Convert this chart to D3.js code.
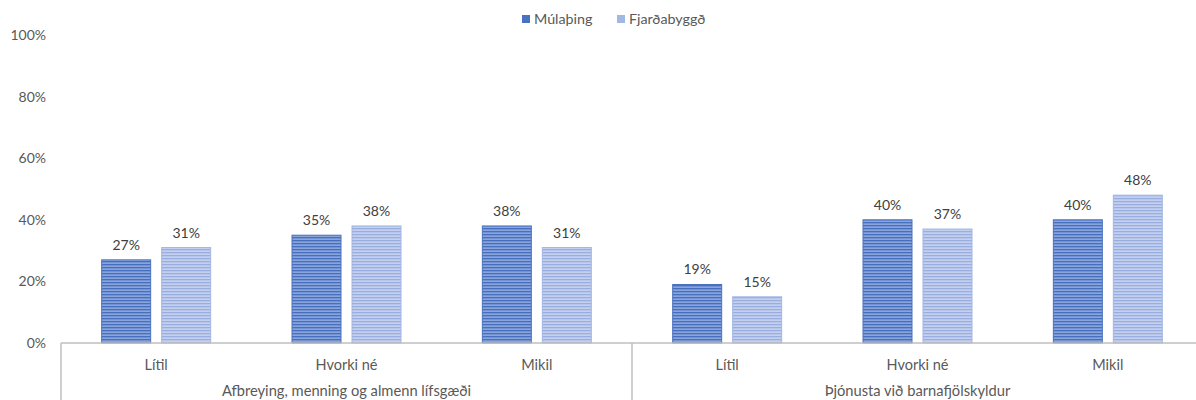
<!DOCTYPE html>
<html>
<head>
<meta charset="utf-8">
<script src="https://cdn.jsdelivr.net/npm/d3@7"></script>
<style>
  html, body { margin: 0; padding: 0; background: #fff; }
  svg text { font-family: Lato, "Open Sans", sans-serif; }
</style>
</head>
<body>
<svg id="chart" width="1196" height="400"></svg>
<script>
const groups = ["Afbreying, menning og almenn lífsgæði", "Þjónusta við barnafjölskyldur"];
const categories = ["Lítil", "Hvorki né", "Mikil"];
const seriesNames = ["Múlaþing", "Fjarðabyggð"];
const mulathing = [27, 35, 38, 19, 40, 40];
const fjardabyggd = [31, 38, 31, 15, 37, 48];
const yTicks = [0, 20, 40, 60, 80, 100];

(function () {
const svg = d3.select("#chart");
const mLeft = 61, mRight = 1203, mTop = 35, mBottom = 343;

// patterns
const defs = svg.append("defs");
function stripe(id, base, line, line2) {
  const p = defs.append("pattern").attr("id", id).attr("patternUnits", "userSpaceOnUse")
    .attr("width", 8).attr("height", 3);
  p.append("rect").attr("width", 8).attr("height", 3).attr("fill", base);
  p.append("rect").attr("y", 0).attr("width", 8).attr("height", 1).attr("fill", line);
  p.append("rect").attr("y", 2).attr("width", 8).attr("height", 1).attr("fill", line2);
}
stripe("pDark", "#7393d2", "#4670bf", "#8aa5db");
stripe("pLight", "#b7c6ea", "#98aee0", "#c4d0ee");
const fills = ["url(#pDark)", "url(#pLight)"];
const edge = ["#4a72c0", "#a3b7e3"];
const legendFill = ["#4a72c0", "#a3b7e3"];

const items = [];
groups.forEach((g, gi) => categories.forEach((c, ci) => items.push({ g, gi, c, i: gi * categories.length + ci })));

const x = d3.scaleBand().domain(items.map(d => d.i)).range([mLeft, mRight]).padding(0);
const xs = d3.scaleBand().domain(seriesNames).range([0, x.step()]).paddingInner(11 / 60).paddingOuter(0.678);
const y = d3.scaleLinear().domain([0, 100]).range([mBottom, mTop]);

// y tick labels
const yAxis = d3.axisLeft(y).tickValues(yTicks).tickFormat(d => d + "%").tickSize(0).tickPadding(15);
const ya = svg.append("g").attr("transform", `translate(${mLeft},0)`).call(yAxis);
ya.select(".domain").remove();
ya.selectAll("text").attr("fill", "#595959").style("font-size", "14px").style("font-family", "Lato, sans-serif");

// bars
const values = [mulathing, fjardabyggd];
seriesNames.forEach((s, si) => {
  svg.append("g").selectAll("rect").data(items).join("rect")
    .attr("x", d => x(d.i) + xs(s))
    .attr("width", xs.bandwidth())
    .attr("y", d => y(values[si][d.i]))
    .attr("height", d => y(0) - y(values[si][d.i]))
    .attr("fill", fills[si])
    .attr("stroke", edge[si]).attr("stroke-width", 1);
  svg.append("g").selectAll("text").data(items).join("text")
    .attr("x", d => x(d.i) + xs(s) + xs.bandwidth() / 2)
    .attr("y", d => y(values[si][d.i]) - 10)
    .attr("text-anchor", "middle")
    .attr("fill", "#404040").style("font-size", "14px")
    .text(d => values[si][d.i] + "%");
});

// x axis line
svg.append("line").attr("x1", mLeft).attr("x2", mRight).attr("y1", mBottom).attr("y2", mBottom)
  .attr("stroke", "#bfbfbf").attr("stroke-width", 1.5);
// group separators
const groupEdges = [0, 3, 6].map(k => mLeft + k * x.step());
svg.append("g").selectAll("line").data(groupEdges).join("line")
  .attr("x1", d => d).attr("x2", d => d).attr("y1", mBottom).attr("y2", 400)
  .attr("stroke", "#bfbfbf").attr("stroke-width", 1.5);

// category labels
svg.append("g").selectAll("text").data(items).join("text")
  .attr("x", d => x(d.i) + x.step() / 2).attr("y", 370)
  .attr("text-anchor", "middle").attr("fill", "#595959").style("font-size", "14.5px")
  .text(d => d.c);
// group labels
svg.append("g").selectAll("text").data(groups).join("text")
  .attr("x", (d, gi) => (groupEdges[gi] + groupEdges[gi + 1]) / 2).attr("y", 396)
  .attr("text-anchor", "middle").attr("fill", "#595959").style("font-size", "14.7px")
  .text(d => d);

// legend
const legendX = [522, 617];
const lg = svg.append("g");
seriesNames.forEach((s, si) => {
  lg.append("rect").attr("x", legendX[si]).attr("y", 15).attr("width", 8).attr("height", 8).attr("fill", legendFill[si]);
  lg.append("text").attr("x", legendX[si] + 12).attr("y", 24).attr("fill", "#595959").style("font-size", "14.3px").text(s);
});
})();
</script>
</body>
</html>
